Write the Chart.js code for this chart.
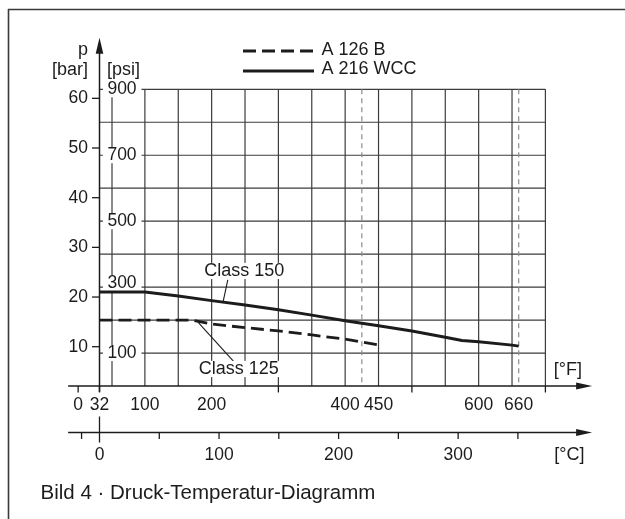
<!DOCTYPE html>
<html>
<head>
<meta charset="utf-8">
<script src="https://cdn.jsdelivr.net/npm/chart.js@4.4.1/dist/chart.umd.min.js"></script>
<style>
  html, body { margin: 0; padding: 0; background: #fff; }
  canvas { display: block; }
</style>
</head>
<body>
<canvas id="chart" width="625" height="519"></canvas>
<script>
// Class 150, A 216 WCC (temperature in °F, pressure in psi)
const wccTemp = [32, 100, 150, 200, 250, 300, 350, 400, 450, 500, 550, 575, 600, 650, 660];
const wccPsi  = [285, 285, 273, 259, 246, 231, 215, 198, 183, 167, 148, 138, 134, 124, 121];

// Class 125, A 126 B
const castTemp = [32, 170, 200, 250, 300, 350, 400, 425, 450];
const castPsi  = [200, 200, 188, 177, 167, 155, 142, 133, 125];

// axes
const fGrid       = [100, 150, 200, 250, 300, 350, 400, 450, 500, 550, 600, 650, 700];
const fLabels     = [0, 32, 100, 200, 400, 450, 600, 660];
const fTicksBelow = [0, 32, 300, 500, 700];
const fLimits     = [425, 660];
const psiGrid     = [100, 200, 300, 400, 500, 600, 700, 800, 900];
const psiLabels   = [100, 300, 500, 700, 900];
const barTicks    = [10, 20, 30, 40, 50, 60];
const cTicks      = [-15, 0, 50, 100, 150, 200, 250, 300, 350];
const cLabels     = [0, 100, 200, 300];

const FONT = '"Liberation Sans", Arial, sans-serif';
const INK = '#1c1c1c';
const GRID = '#3c3c3c';

function line(ctx, x1, y1, x2, y2, width, color, dash) {
  ctx.save();
  ctx.beginPath();
  ctx.lineWidth = width;
  ctx.strokeStyle = color;
  ctx.setLineDash(dash || []);
  ctx.moveTo(x1, y1);
  ctx.lineTo(x2, y2);
  ctx.stroke();
  ctx.restore();
}

function arrow(ctx, x, y, dir) {
  // dir: 'up' or 'right', x/y is the tip
  ctx.save();
  ctx.fillStyle = INK;
  ctx.beginPath();
  if (dir == 'up') {
    ctx.moveTo(x, y);
    ctx.lineTo(x - 3.8, y + 16);
    ctx.lineTo(x + 3.8, y + 16);
  } else {
    ctx.moveTo(x, y);
    ctx.lineTo(x - 16, y - 3.6);
    ctx.lineTo(x - 16, y + 3.6);
  }
  ctx.closePath();
  ctx.fill();
  ctx.restore();
}

function label(ctx, str, x, y, align, size, bg) {
  ctx.save();
  ctx.font = size + 'px ' + FONT;
  ctx.textAlign = align;
  ctx.textBaseline = 'middle';
  if (bg) {
    let w = ctx.measureText(str).width;
    let left = align == 'center' ? x - w / 2 : (align == 'right' ? x - w : x);
    ctx.fillStyle = '#fff';
    ctx.fillRect(left - 2, y - size * 0.45, w + 4, size * 0.9);
  }
  ctx.fillStyle = INK;
  ctx.fillText(str, x, y);
  ctx.restore();
}

const diagramPlugin = {
  id: 'diagram',
  beforeDraw(chart) {
    const ctx = chart.ctx;
    ctx.save();
    ctx.fillStyle = '#fff';
    ctx.fillRect(0, 0, chart.width, chart.height);
    ctx.restore();
    // frame
    line(ctx, 8, 9.5, chart.width, 9.5, 1.6, '#3a3a3a');
    line(ctx, 8.5, 9, 8.5, chart.height, 1.6, '#3a3a3a');
  },
  beforeDatasetsDraw(chart) {
    const ctx = chart.ctx;
    const xF = chart.scales.x, yP = chart.scales.y, yB = chart.scales.yBar, xC = chart.scales.xC;
    const X = v => xF.getPixelForValue(v);
    const Y = v => yP.getPixelForValue(v);
    const ax = X(32), base = Y(0);

    // grid
    for (let p of psiGrid) line(ctx, ax, Y(p), X(700), Y(p), 1.2, GRID);
    for (let f of fGrid) line(ctx, X(f), Y(900), X(f), base, 1.2, GRID);
    for (let f of fLimits) line(ctx, X(f), Y(900), X(f), base, 1.2, '#8c8c8c', [5, 4]);

    // psi axis, broken by its labels
    line(ctx, ax + 12.5, Y(900), ax + 12.5, base, 1.2, GRID);
    for (let p of psiLabels) {
      let dy = p == 300 ? -4 : 0;
      ctx.fillStyle = '#fff';
      ctx.fillRect(ax + 3.5, Y(p) + dy - 8, 38.5, 16);
      label(ctx, String(p), ax + 22.5, Y(p) + dy, 'center', 17.5);
    }

    // pressure axis with arrow
    line(ctx, ax, base + 6, ax, Y(1040), 1.5, INK);
    arrow(ctx, ax, Y(1056), 'up');
    for (let b of barTicks) {
      line(ctx, ax - 7.5, yB.getPixelForValue(b), ax, yB.getPixelForValue(b), 1.3, INK);
      label(ctx, String(b), ax - 11.5, yB.getPixelForValue(b), 'right', 17.5);
    }
    label(ctx, 'p', ax - 11.5, 50, 'right', 18);
    label(ctx, '[bar]', ax - 11.5, 70, 'right', 18);
    label(ctx, '[psi]', ax + 7.5, 70, 'left', 18);

    // °F axis
    line(ctx, X(-15), base, X(760), base, 1.5, INK);
    arrow(ctx, X(770), base, 'right');
    for (let f of fTicksBelow) line(ctx, X(f), base, X(f), base + 6.5, 1.3, INK);
    for (let f of fLabels) label(ctx, String(f), X(f), base + 19.5, 'center', 17.5);
    label(ctx, '[°F]', X(700) + 22.5, base - 16, 'center', 18);

    // °C axis
    const cy = base + 46.5;
    const C = v => xC.getPixelForValue(v);
    line(ctx, X(-15), cy, X(760), cy, 1.5, INK);
    arrow(ctx, X(770), cy, 'right');
    for (let c of cTicks) {
      if (c == 0) line(ctx, C(c), cy - 16, C(c), cy + 10, 1.3, INK);
      else line(ctx, C(c), cy, C(c), cy + 6.5, 1.3, INK);
    }
    for (let c of cLabels) label(ctx, String(c), C(c), cy + 22.5, 'center', 17.5);
    label(ctx, '[°C]', X(700) + 24, cy + 22.5, 'center', 18);

    // legend
    const sets = chart.data.datasets;
    line(ctx, 243, 51, 314, 51, 2.8, INK, sets[0].borderDash);
    line(ctx, 243, 71, 314, 71, 2.8, INK);
    label(ctx, sets[0].label, 321.5, 50, 'left', 18);
    label(ctx, sets[1].label, 321.5, 69.5, 'left', 18);

    // caption
    label(ctx, 'Bild 4 · Druck-Temperatur-Diagramm', 40.5, 493, 'left', 20.5);
  },
  afterDatasetsDraw(chart) {
    const ctx = chart.ctx;
    const X = v => chart.scales.x.getPixelForValue(v);
    const Y = v => chart.scales.y.getPixelForValue(v);
    line(ctx, X(217.2), Y(255.8), X(224.2), Y(321.6), 1.1, INK);
    label(ctx, 'Class 150', X(248.9), Y(349), 'center', 18, true);
    line(ctx, X(179.8), Y(193), X(233.2), Y(73.7), 1.1, INK);
    label(ctx, 'Class 125', X(240.7), Y(51.6), 'center', 18, true);
  }
};

const points = (xs, ys) => xs.map((x, i) => ({ x: x, y: ys[i] }));

var myChart = new Chart(document.getElementById('chart').getContext('2d'), {
  type: 'line',
  data: {
    datasets: [
      {
        label: 'A 126 B',
        data: points(castTemp, castPsi),
        borderColor: INK,
        borderWidth: 2.8,
        borderDash: [13, 6],
        pointRadius: 0,
        fill: false
      },
      {
        label: 'A 216 WCC',
        data: points(wccTemp, wccPsi),
        borderColor: INK,
        borderWidth: 3,
        borderJoinStyle: 'round',
        pointRadius: 0,
        fill: false
      }
    ]
  },
  options: {
    responsive: false,
    animation: false,
    devicePixelRatio: 1,
    layout: { padding: { left: 99.5, right: 79.6, top: 89.3, bottom: 133 } },
    plugins: { legend: { display: false }, tooltip: { enabled: false } },
    scales: {
      x: { type: 'linear', min: 32, max: 700, display: false },
      xC: { type: 'linear', axis: 'x', min: 0, max: 373, display: false },
      y: { type: 'linear', min: 0, max: 900, display: false },
      yBar: { type: 'linear', axis: 'y', min: 2.09, max: 61.82, display: false }
    }
  },
  plugins: [diagramPlugin]
});
</script>
</body>
</html>
